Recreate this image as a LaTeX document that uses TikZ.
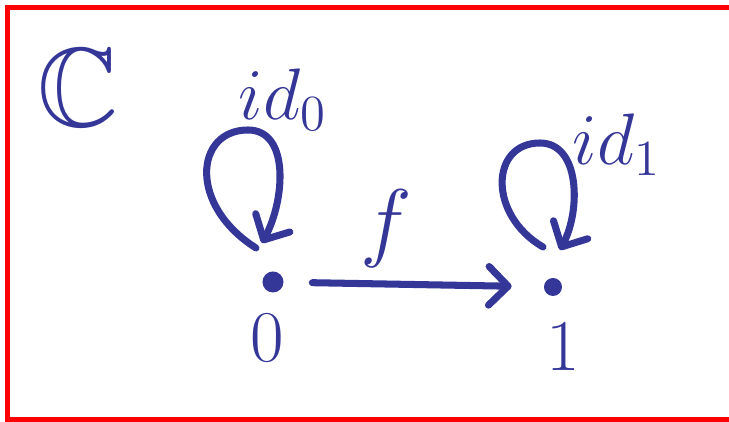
\documentclass[tikz,border=0pt]{standalone}
\usepackage{amssymb}
\usetikzlibrary{arrows.meta}
\definecolor{ink}{RGB}{52,54,152}

\begin{document}
\begin{tikzpicture}[x=0.01cm,y=-0.01cm,
  ink line/.style={draw=ink,line width=2pt,line cap=round,line join=round},
  arr/.style={ink line,-{Straight Barb[round,length=5.5pt,width=11pt]}},
  dot/.style={circle,fill=ink,inner sep=0pt,minimum size=#1},
  lab/.style={text=ink,font=\fontsize{20}{24}\selectfont}]
\useasboundingbox (0,0) rectangle (729,422);
% frame, open at the right
\draw[red,line width=1.6pt] (740,7.5) -- (7.5,7.5) -- (7.5,420) -- (740,420);

\node[text=ink,font=\fontsize{32}{36}\selectfont] (cat) at (78,88) {$\mathbb{C}$};

% objects
\node[dot=0.21cm] (d0) at (273,282) {};
\node[dot=0.18cm] (d1) at (553,287) {};
\node[lab] (n0) at (267,338) {$0$};
\node[lab] (n1) at (563,347) {$1$};

% f
\draw[arr,shorten <=8pt,shorten >=9pt] (d0) -- (d1);
\node[lab,font=\fontsize{24}{28}\selectfont] (f) at (386,229) {$f$};

% identities
\draw[arr] (256,248) .. controls (188,205) and (195,130) .. (248,130)
  .. controls (290,130) and (285,200) .. (262,243);
\node[lab] (id0) at (283,100) {$id_0$};
\draw[arr] (543,247) .. controls (488,215) and (490,143) .. (540,143)
  .. controls (580,143) and (581,210) .. (560,250);
\node[lab] (id1) at (617,145) {$id_1$};
\end{tikzpicture}
\end{document}
